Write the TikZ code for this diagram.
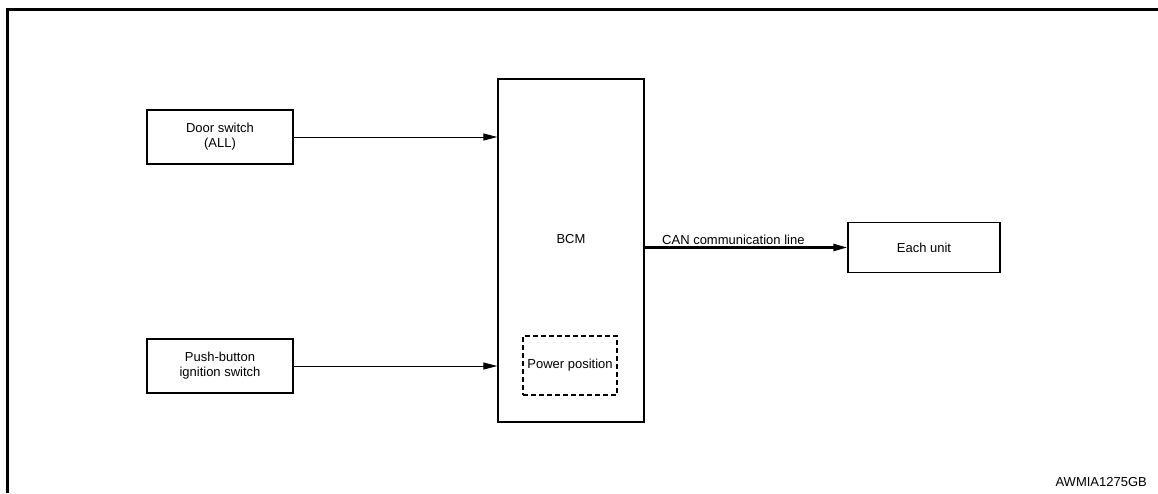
\documentclass[tikz,border=0pt]{standalone}
\usepackage{fontspec}
\setmainfont{Liberation Sans}
\usetikzlibrary{arrows.meta}

\begin{document}
\begin{tikzpicture}[x=1pt,y=-1pt]
                  \tikzstyle{every node}+=[inner sep=0pt, font=\fontsize{13}{15}\selectfont]
                  \tikzstyle{blk}=[draw=black, line width=1.3pt, align=center]
                  \tikzstyle{sig}=[draw=black, line width=1pt, -{Triangle[length=14pt,width=7pt]}]
                  \useasboundingbox (0,0) rectangle (1158,493);
                  \draw [black, line width=3pt] (7,493) -- (7,9) -- (1158,9);
                  \node (door) [blk, minimum width=146pt, minimum height=54pt] at (220,137) {Door switch\\(ALL)};
                  \node (push) [blk, minimum width=146pt, minimum height=54pt] at (220,366) {Push-button\\ignition switch};
                  \node (bcm) [blk, minimum width=146pt, minimum height=343pt] at (571,250.5) {};
                  \node (bcmlbl) at (571,239) {BCM};
                  \node (power) [draw=black, dash pattern=on 5pt off 3pt, line width=1.2pt, minimum width=94pt, minimum height=59pt] at (570,365.5) {Power position};
                  \node (unit) [blk, minimum width=152pt, minimum height=50pt] at (924,247.5) {Each unit};
                  \draw [sig] (door.east) -- (bcm.west |- door.east);
                  \draw [sig] (push.east) -- (bcm.west |- push.east);
                  \draw [sig, line width=2.4pt] (bcm.east |- unit.west) -- (unit.west);
                  \node (canlbl) [anchor=base west] at (662,244) {CAN communication line};
                  \node (code) [anchor=base east] at (1147,486) {AWMIA1275GB};
              \end{tikzpicture}
\end{document}
